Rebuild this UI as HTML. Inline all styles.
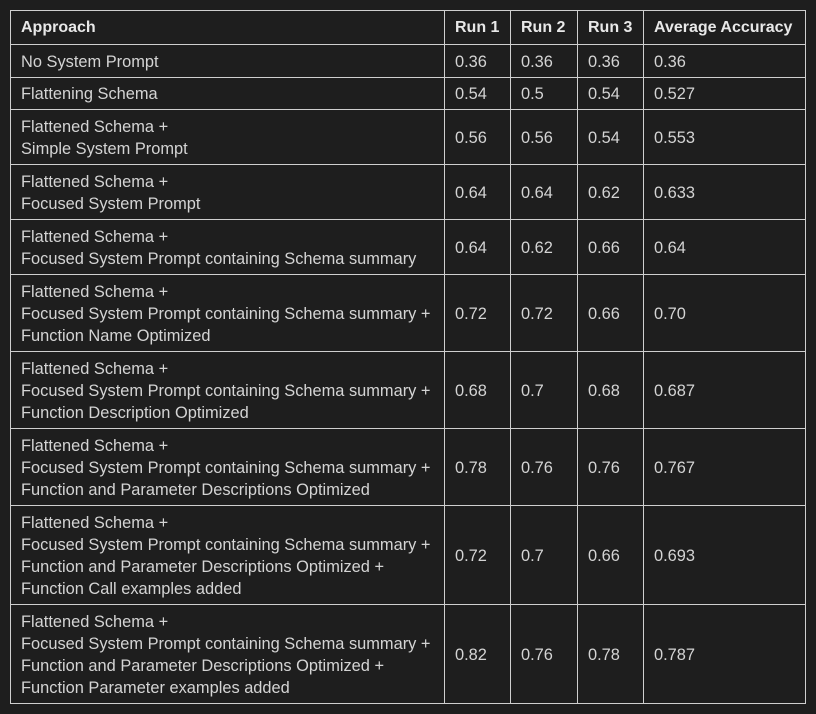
<!DOCTYPE html>
<html><head><style>
html,body{margin:0;padding:0;background:#1e1e1e;width:816px;height:714px;overflow:hidden}
table{position:absolute;left:10px;top:10px;border-collapse:collapse;table-layout:fixed;width:795px;font-family:"Liberation Sans",sans-serif;font-size:16.4px;color:#d4d4d4}
td,th{border:1px solid #cfcfcf;padding:1px 0 0 10px;line-height:22px;text-align:left;vertical-align:middle;white-space:nowrap;overflow:hidden}
th{font-weight:bold;height:32px;color:#e8e8e8;font-size:16px}
</style></head><body>
<table>
<colgroup><col style="width:434px"><col style="width:66px"><col style="width:67px"><col style="width:66px"><col style="width:162px"></colgroup>
<tr><th>Approach</th><th>Run 1</th><th>Run 2</th><th>Run 3</th><th>Average Accuracy</th></tr>
<tr style="height:33px"><td>No System Prompt</td><td>0.36</td><td>0.36</td><td>0.36</td><td>0.36</td></tr>
<tr style="height:32px"><td>Flattening Schema</td><td>0.54</td><td>0.5</td><td>0.54</td><td>0.527</td></tr>
<tr style="height:55px"><td>Flattened Schema +<br>Simple System Prompt</td><td>0.56</td><td>0.56</td><td>0.54</td><td>0.553</td></tr>
<tr style="height:55px"><td>Flattened Schema +<br>Focused System Prompt</td><td>0.64</td><td>0.64</td><td>0.62</td><td>0.633</td></tr>
<tr style="height:55px"><td>Flattened Schema +<br>Focused System Prompt containing Schema summary</td><td>0.64</td><td>0.62</td><td>0.66</td><td>0.64</td></tr>
<tr style="height:77px"><td>Flattened Schema +<br>Focused System Prompt containing Schema summary +<br>Function Name Optimized</td><td>0.72</td><td>0.72</td><td>0.66</td><td>0.70</td></tr>
<tr style="height:77px"><td>Flattened Schema +<br>Focused System Prompt containing Schema summary +<br>Function Description Optimized</td><td>0.68</td><td>0.7</td><td>0.68</td><td>0.687</td></tr>
<tr style="height:77px"><td>Flattened Schema +<br>Focused System Prompt containing Schema summary +<br>Function and Parameter Descriptions Optimized</td><td>0.78</td><td>0.76</td><td>0.76</td><td>0.767</td></tr>
<tr style="height:99px"><td>Flattened Schema +<br>Focused System Prompt containing Schema summary +<br>Function and Parameter Descriptions Optimized +<br>Function Call examples added</td><td>0.72</td><td>0.7</td><td>0.66</td><td>0.693</td></tr>
<tr style="height:99px"><td>Flattened Schema +<br>Focused System Prompt containing Schema summary +<br>Function and Parameter Descriptions Optimized +<br>Function Parameter examples added</td><td>0.82</td><td>0.76</td><td>0.78</td><td>0.787</td></tr>
</table>
</body></html>
